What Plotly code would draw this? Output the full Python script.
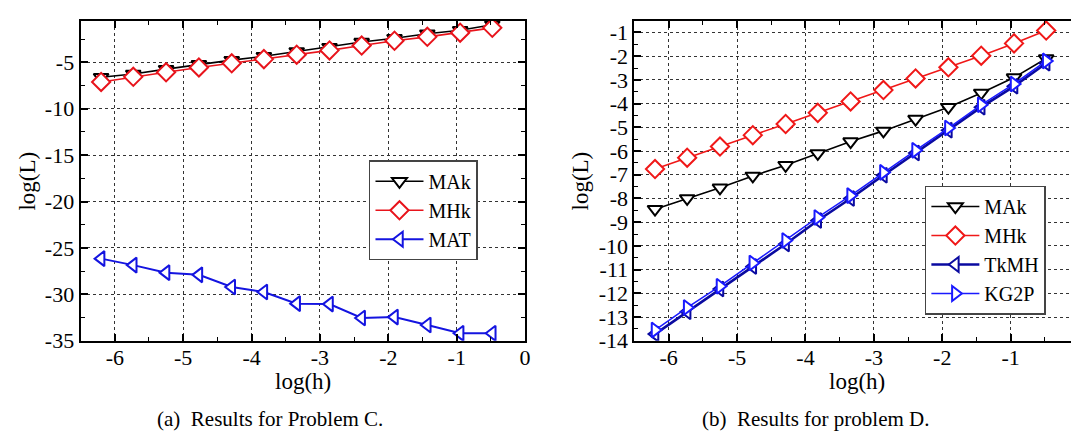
import plotly.graph_objects as go

# ---------------- data ----------------
log_h = [-6.20, -5.73, -5.25, -4.77, -4.29, -3.82, -3.34, -2.86, -2.39, -1.91, -1.43, -0.95, -0.48]

# Problem C
c_mak = [-6.60, -6.25, -5.73, -5.21, -4.76, -4.34, -3.82, -3.37, -2.81, -2.40, -1.91, -1.53, -0.94]
c_mhk = [-7.11, -6.56, -6.07, -5.55, -5.10, -4.65, -4.17, -3.71, -3.19, -2.67, -2.25, -1.80, -1.28]
c_mat = [-26.15, -26.85, -27.66, -27.90, -29.20, -29.75, -31.00, -31.05, -32.55, -32.45, -33.30, -34.20, -34.20]

# Problem D
d_mak = [-8.45, -8.00, -7.55, -7.05, -6.60, -6.10, -5.60, -5.15, -4.65, -4.15, -3.55, -2.90, -2.10]
d_mhk = [-6.76, -6.28, -5.81, -5.33, -4.86, -4.39, -3.91, -3.43, -2.94, -2.47, -1.98, -1.46, -0.92]
d_tkmh = [-13.72, -12.78, -11.82, -10.87, -9.92, -8.93, -8.00, -7.02, -6.08, -5.12, -4.15, -3.27, -2.30]
d_kg2p = [-13.55, -12.60, -11.70, -10.72, -9.77, -8.80, -7.88, -6.90, -5.97, -5.03, -4.05, -3.17, -2.20]

x_ticks = [-6, -5, -4, -3, -2, -1, 0]
x_ticktext = ["-6", "-5", "-4", "-3", "-2", "-1", "0"]
c_yticks = [-5, -10, -15, -20, -25, -30, -35]
c_yticktext = ["-5", "-10", "-15", "-20", "-25", "-30", "-35"]
d_yticks = [-1, -2, -3, -4, -5, -6, -7, -8, -9, -10, -11, -12, -13, -14]
d_yticktext = ["-1", "-2", "-3", "-4", "-5", "-6", "-7", "-8", "-9", "-10", "-11", "-12", "-13", "-14"]

FONT = "Liberation Serif"

fig = go.Figure()

def add(x, y, name, color, symbol, xa, ya, legend, lw=1.6, msize=13):
    fig.add_trace(go.Scatter(
        x=x, y=y, name=name, mode="lines+markers",
        xaxis=xa, yaxis=ya, legend=legend,
        line=dict(color=color, width=lw),
        marker=dict(symbol=symbol, size=msize, color="white",
                    line=dict(color=color, width=2)),
    ))

add(log_h, c_mak, "MAk", "black", "triangle-down", "x", "y", "legend")
add(log_h, c_mhk, "MHk", "#e8141c", "diamond", "x", "y", "legend", msize=14)
add(log_h, c_mat, "MAT", "#1414e0", "triangle-left", "x", "y", "legend", lw=2)

add(log_h, d_mak, "MAk", "black", "triangle-down", "x2", "y2", "legend2")
add(log_h, d_mhk, "MHk", "#f01818", "diamond", "x2", "y2", "legend2", msize=14)
add(log_h, d_tkmh, "TkMH", "#0a0aa0", "triangle-left", "x2", "y2", "legend2", lw=2.6)
add(log_h, d_kg2p, "KG2P", "#1a1aff", "triangle-right", "x2", "y2", "legend2", lw=1.5)

W, H = 1079, 435
top, bottom = 13, 343
ydom = [1 - bottom / H, 1 - top / H]
TICKFONT = dict(family=FONT, size=22, color="black")

def xaxis(domain, anchor):
    return dict(
        domain=domain, anchor=anchor, range=[-6.5, 0],
        tickmode="array", tickvals=x_ticks, ticktext=x_ticktext,
        ticks="inside", ticklen=7, tickwidth=1.5, tickcolor="black",
        showline=True, linecolor="black", linewidth=2, mirror="allticks",
        showgrid=True, gridcolor="#333333", griddash="dot", gridwidth=1,
        zeroline=False, ticklabelstandoff=-4,
        minor=dict(tickmode="linear", tick0=0, dtick=0.5, ticks="inside",
                   ticklen=4, tickwidth=1.2, tickcolor="black", showgrid=False),
        tickfont=TICKFONT,
    )

def yaxis(domain, anchor, rng, tv, tt, minor_dt):
    return dict(
        domain=domain, anchor=anchor, range=rng,
        tickmode="array", tickvals=tv, ticktext=tt,
        ticks="inside", ticklen=7, tickwidth=1.5, tickcolor="black",
        showline=True, linecolor="black", linewidth=2, mirror="allticks",
        showgrid=True, gridcolor="#333333", griddash="dot", gridwidth=1,
        zeroline=False,
        minor=dict(tickmode="linear", tick0=0, dtick=minor_dt, ticks="inside",
                   ticklen=4, tickwidth=1.2, tickcolor="black", showgrid=False),
        tickfont=TICKFONT,
    )

legend_style = dict(
    bgcolor="white", bordercolor="#444444", borderwidth=1.5,
    font=dict(family=FONT, size=20, color="black"),
    xanchor="left", yanchor="top", tracegroupgap=0, itemwidth=48,
)

fig.update_layout(
    width=W, height=H, margin=dict(l=0, r=0, t=0, b=0),
    paper_bgcolor="white", plot_bgcolor="white",
    xaxis=xaxis([73 / W, 520 / W], "y"),
    yaxis=yaxis(ydom, "x", [-35, -0.5], c_yticks, c_yticktext, 2.5),
    xaxis2=xaxis([630 / W, 1077 / W], "y2"),
    yaxis2=yaxis(ydom, "x2", [-14, -0.5], d_yticks, d_yticktext, 0.5),
    legend=dict(x=363 / W, y=1 - 157 / H, **legend_style),
    legend2=dict(x=922 / W, y=1 - 183 / H, **legend_style),
    showlegend=True,
)

annots = [
    dict(text="log(L)", x=20 / W, y=1 - 178 / H, textangle=-90, size=23),
    dict(text="log(L)", x=576 / W, y=1 - 178 / H, textangle=-90, size=23),
    dict(text="log(h)", x=297 / W, y=1 - 385 / H, textangle=0, size=23),
    dict(text="log(h)", x=854 / W, y=1 - 385 / H, textangle=0, size=23),
    dict(text="(a)  Results for Problem C.", x=263 / W, y=1 - 424 / H, textangle=0, size=21),
    dict(text="(b)  Results for problem D.", x=812 / W, y=1 - 424 / H, textangle=0, size=21),
]
for a in annots:
    fig.add_annotation(
        text=a["text"], x=a["x"], y=a["y"], xref="paper", yref="paper",
        xanchor="center", yanchor="middle", showarrow=False,
        textangle=a["textangle"],
        font=dict(family=FONT, size=a["size"], color="black"),
    )

fig.write_html("out.html")
